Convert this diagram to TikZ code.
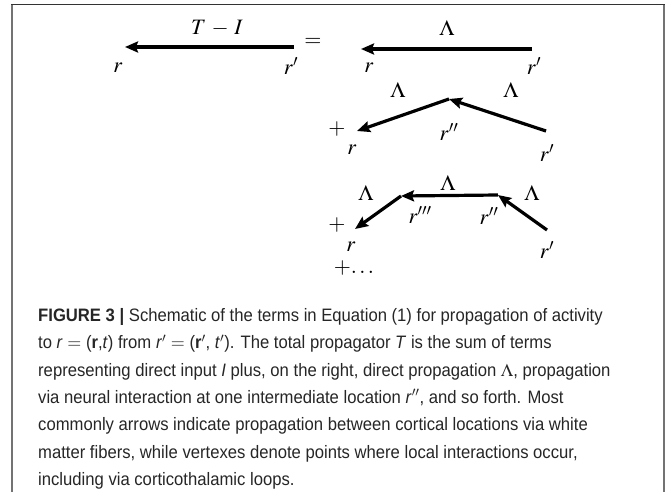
\documentclass[tikz,border=0pt]{standalone}
\usepackage{mathptmx}
\usepackage{fontspec}
\usepackage{amsmath}
\usetikzlibrary{arrows.meta}
\newfontfamily\capfont{Liberation Sans}[FakeStretch=0.925]

\begin{document}
\begin{tikzpicture}[x=1pt, y=-1pt, font=\fontsize{22}{26}\selectfont,
    prop/.style={black, line width=3.2pt, -{Stealth[length=13pt, width=11pt, inset=2pt]}}]
    \useasboundingbox (0,0) rectangle (667,492);
    % This draws the frame round the figure.
        \draw[black!55, line width=1.3pt] (12,492) -- (12,4.5);
        \draw[black!55, line width=1.3pt] (664,4.5) -- (664,492);
        \draw[black!80, line width=1.3pt] (11.4,4.5) -- (664.6,4.5);
    % Below coordinates are the vertexes of the arrows.
        \coordinate (ta) at (125,47);  \coordinate (tb) at (294,47);
        \coordinate (da) at (361,49);  \coordinate (db) at (532,49);
        \coordinate (sa) at (357,131); \coordinate (sm) at (449,99);  \coordinate (sb) at (546,131);
        \coordinate (qa) at (355,229); \coordinate (qm) at (401,196);
        \coordinate (qn) at (498,195); \coordinate (qb) at (547,230);
    % The arrows.
        \draw[prop] (tb) -- (ta);
        \draw[prop] (db) -- (da);
        \draw[prop] (sm) -- (sa);
        \draw[prop] (sb) -- (sm);
        \draw[prop] (qm) -- (qa);
        \draw[prop] (qn) -- (qm);
        \draw[prop] (qb) -- (qn);
    % Below nodes are the labels.
        \node[] (tlab) at (217,28) {$T\,-\,I$};
        \node[] (tr) at (118,68) {$r$};
        \node[] (trp) at (291,66) {$r'$};
        \node[] (eq) at (313,42) {$=$};
        \node[] (dlab) at (447,28) {$\Lambda$};
        \node[] (dr) at (369,68) {$r$};
        \node[] (drp) at (534,66) {$r'$};
        \node[] (splus) at (337,129) {$+$};
        \node[] (sll) at (398,90) {$\Lambda$};
        \node[] (slr) at (511,90) {$\Lambda$};
        \node[] (srpp) at (449,132) {$r''$};
        \node[] (sr) at (352,150) {$r$};
        \node[] (srp) at (547,153) {$r'$};
        \node[] (qlab) at (448,183) {$\Lambda$};
        \node[] (qll) at (366,193) {$\Lambda$};
        \node[] (qlr) at (532,193) {$\Lambda$};
        \node[] (qplus) at (337,225) {$+$};
        \node[] (qrppp) at (420,215) {$r'''$};
        \node[] (qrpp) at (489,216) {$r''$};
        \node[] (qr) at (351,247) {$r$};
        \node[] (qrp) at (547,250) {$r'$};
        \node[] (more) at (354,268) {$+\!\ldots$};
    % The caption.
        \node[anchor=north west, align=left, inner sep=0pt, text=black!85,
              font=\capfont\fontsize{18}{27.4}\selectfont] (cap) at (38,308)
        {\textbf{FIGURE 3 |} Schematic of the terms in Equation (1) for propagation of activity\\
         to \textit{r} $=$ (\textbf{r},\textit{t}) from \textit{r}$'$ $=$ (\textbf{r}$'$, \textit{t}$'$). The total propagator \textit{T} is the sum of terms\\
         representing direct input \textit{I} plus, on the right, direct propagation $\Lambda$, propagation\\
         via neural interaction at one intermediate location \textit{r}$''$, and so forth. Most\\
         commonly arrows indicate propagation between cortical locations via white\\
         matter fibers, while vertexes denote points where local interactions occur,\\
         including via corticothalamic loops.};
\end{tikzpicture}
\end{document}
